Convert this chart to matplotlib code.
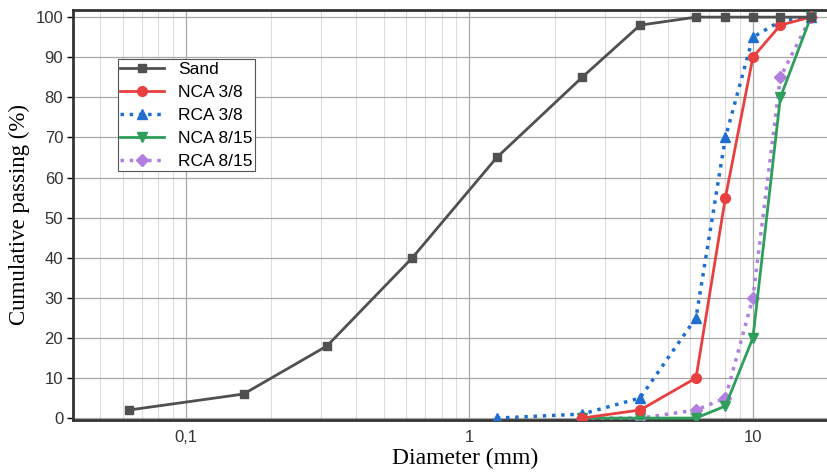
import numpy as np
import matplotlib.pyplot as plt
from matplotlib.ticker import FixedLocator, FixedFormatter, LogLocator, NullFormatter

# %% data
sieves = [0.063, 0.16, 0.315, 0.63, 1.25, 2.5, 4, 6.3, 8, 10, 12.5, 16]
sand = [2, 6, 18, 40, 65, 85, 98, 100, 100, 100, 100, 100]

d_nca38 = [2.5, 4, 6.3, 8, 10, 12.5, 16]
nca38 = [0, 2, 10, 55, 90, 98, 100]

d_rca38 = [1.25, 2.5, 4, 6.3, 8, 10, 12.5, 16]
rca38 = [0, 1, 5, 25, 70, 95, 99, 100]

d_nca815 = [2.5, 4, 6.3, 8, 10, 12.5, 16]
nca815 = [0, 0, 0, 3, 20, 80, 100]

d_rca815 = [2.5, 4, 6.3, 8, 10, 12.5, 16]
rca815 = [0, 0, 2, 5, 30, 85, 100]

# %% figure
fig = plt.figure(figsize=(8.28, 4.72), dpi=100)
ax = fig.add_axes([0.088, 0.11, 0.912, 0.869])

ax.plot(d_rca815, rca815, ls=':', lw=2.5, color='#b07fe0', marker='D', ms=6,
        label='RCA 8/15', zorder=3)
ax.plot(d_nca815, nca815, ls='-', lw=2, color='#2e9e5b', marker='v', ms=7,
        label='NCA 8/15', zorder=3)
ax.plot(d_rca38, rca38, ls=':', lw=2.5, color='#1f6fd0', marker='^', ms=7,
        label='RCA 3/8', zorder=4)
ax.plot(d_nca38, nca38, ls='-', lw=2, color='#e8403f', marker='o', ms=7,
        label='NCA 3/8', zorder=4)
ax.plot(sieves, sand, ls='-', lw=2, color='#505050', marker='s', ms=6,
        label='Sand', zorder=5)

# axes
ax.set_xscale('log')
ax.set_xlim(0.04, 18.4)
ax.set_ylim(-0.5, 101.8)
ax.xaxis.set_major_locator(FixedLocator([0.1, 1, 10]))
ax.xaxis.set_major_formatter(FixedFormatter(['0,1', '1', '10']))
ax.xaxis.set_minor_locator(LogLocator(base=10, subs=np.arange(2, 10)))
ax.xaxis.set_minor_formatter(NullFormatter())
ax.set_yticks(np.arange(0, 101, 10))

for lab in ax.get_xticklabels() + ax.get_yticklabels():
    lab.set_fontfamily('Liberation Sans')
    lab.set_fontsize(12)
    lab.set_color('#333333')
ax.tick_params(axis='x', which='both', length=0, pad=7)
ax.tick_params(axis='y', length=4, width=1, pad=3)

ax.grid(True, which='major', color='#a8a8a8', lw=0.9)
ax.grid(True, which='minor', axis='x', color='#dcdcdc', lw=0.8)

ax.set_xlabel('Diameter (mm)', fontfamily='Liberation Serif', fontsize=17,
              labelpad=0)
ax.xaxis.set_label_coords(0.52, -0.068)
ax.set_ylabel('Cumulative passing (%)', fontfamily='Liberation Serif',
              fontsize=16.5, labelpad=4)

for s in ['left', 'bottom', 'top']:
    ax.spines[s].set_linewidth(2)
    ax.spines[s].set_color('#333333')
ax.spines['right'].set_visible(False)

# legend in original order
handles, labels = ax.get_legend_handles_labels()
order = ['Sand', 'NCA 3/8', 'RCA 3/8', 'NCA 8/15', 'RCA 8/15']
hmap = dict(zip(labels, handles))
leg = ax.legend([hmap[k] for k in order], order, loc='upper left',
                bbox_to_anchor=(0.0596, 0.880), borderaxespad=0,
                fancybox=False, framealpha=1, edgecolor='#555555',
                borderpad=0.15, handlelength=2.5, handletextpad=0.8,
                labelspacing=0.45,
                prop={'family': 'Liberation Sans', 'size': 12.5})
leg.get_frame().set_linewidth(0.8)

plt.savefig('out.png', dpi=100)
